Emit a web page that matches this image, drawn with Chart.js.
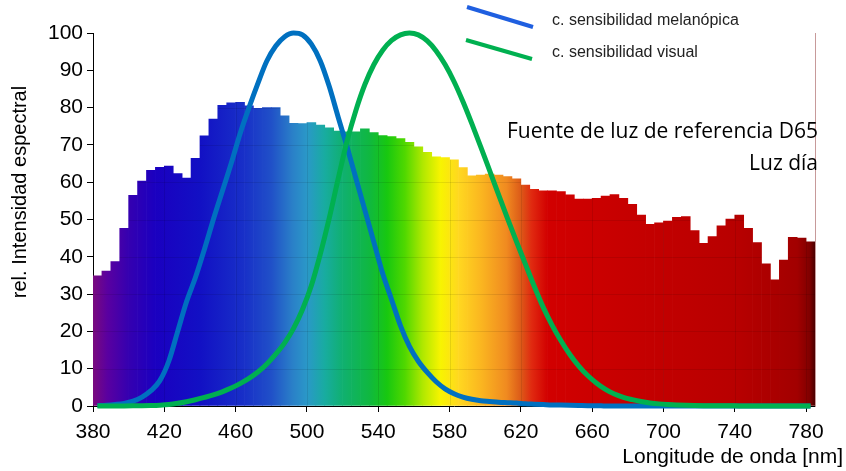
<!DOCTYPE html>
<html>
<head>
<meta charset="utf-8">
<script src="https://cdn.jsdelivr.net/npm/chart.js@4"></script>
<style>
  html, body { margin: 0; padding: 0; background: #fff; }
  canvas { display: block; }
</style>
</head>
<body>
<canvas id="chart" width="846" height="471"></canvas>
<script>
// Longitudes de onda (nm), intervalos de 5 nm
const wavelengths = [
  380, 385, 390, 395, 400, 405, 410, 415, 420, 425, 430, 435, 440, 445, 450, 455, 460, 465, 470, 475,
  480, 485, 490, 495, 500, 505, 510, 515, 520, 525, 530, 535, 540, 545, 550, 555, 560, 565, 570, 575,
  580, 585, 590, 595, 600, 605, 610, 615, 620, 625, 630, 635, 640, 645, 650, 655, 660, 665, 670, 675,
  680, 685, 690, 695, 700, 705, 710, 715, 720, 725, 730, 735, 740, 745, 750, 755, 760, 765, 770, 775,
  780
];

// Fuente de luz D65, intensidad relativa
const d65 = [
  34.9, 36.2, 38.7, 47.6, 56.5, 60.3, 63.2, 64.0, 64.3, 62.3, 61.1, 66.4, 72.4, 76.9, 80.6, 81.3, 81.4, 80.5, 79.8, 80.0,
  80.0, 77.8, 75.8, 75.7, 76.0, 75.3, 74.6, 73.7, 73.5, 73.5, 74.3, 73.3, 72.5, 72.2, 71.7, 70.7, 69.5, 68.0, 66.8, 66.6,
  66.0, 63.9, 61.7, 61.9, 62.2, 61.9, 61.5, 60.9, 59.2, 58.1, 57.7, 57.7, 57.5, 56.6, 55.5, 55.5, 55.7, 56.3, 56.7, 55.7,
  54.1, 51.2, 48.7, 49.1, 49.6, 50.6, 50.8, 47.0, 43.6, 45.4, 48.3, 50.1, 51.2, 47.6, 43.8, 38.1, 33.8, 39.1, 45.2, 45.0,
  44.0
];

// Curva de sensibilidad melanópica (%)
const melanopica = [
  0.1, 0.2, 0.4, 0.7, 1.3, 2.4, 4.1, 6.8, 12, 20, 28, 34.5, 42, 50, 57.5, 65, 73, 80, 86.5, 92.5,
  96.5, 99, 100, 99.5, 97, 92.5, 85.7, 77.5, 69.5, 61, 52.5, 44, 35.5, 28.5, 21.5, 16, 12, 9, 6.5, 4.6,
  3.3, 2.4, 1.8, 1.4, 1.2, 1.0, 0.9, 0.8, 0.6, 0.5, 0.4, 0.3, 0.25, 0.2, 0.15, 0.1, 0.1, 0, 0, 0,
  0, 0, 0, 0, 0, 0, 0, 0, 0, 0, 0, 0, 0, 0, 0, 0, 0, 0, 0, 0,
  0
];

// Curva de sensibilidad visual V(λ) (%)
const visual = [
  0.004, 0.006, 0.012, 0.022, 0.04, 0.064, 0.12, 0.22, 0.4, 0.73, 1.16, 1.68, 2.3, 2.98, 3.8, 4.8, 6.0, 7.39, 9.1, 11.26,
  13.9, 16.93, 20.8, 25.86, 32.3, 40.73, 50.3, 60.82, 71.0, 79.32, 86.2, 91.49, 95.4, 98.03, 99.5, 100, 99.5, 97.86, 95.2, 91.54,
  87.0, 81.63, 75.7, 69.49, 63.1, 56.67, 50.3, 44.12, 38.1, 32.1, 26.5, 21.7, 17.5, 13.82, 10.7, 8.16, 6.1, 4.46, 3.2, 2.32,
  1.7, 1.19, 0.82, 0.57, 0.41, 0.29, 0.21, 0.15, 0.1, 0.07, 0.05, 0.04, 0.03, 0.02, 0.01, 0.01, 0.01, 0, 0, 0,
  0
];

const xTicks = [380, 420, 460, 500, 540, 580, 620, 660, 700, 740, 780];
const yTicks = [0, 10, 20, 30, 40, 50, 60, 70, 80, 90, 100];

// Colores del espectro (estilo)
const spectrumStops = [
  [380, '#7a0a7e'], [388, '#5a00a0'], [400, '#3500b0'], [415, '#1a00c0'], [440, '#1210c4'],
  [465, '#1830c8'], [480, '#2050c8'], [492, '#2a80c8'], [500, '#2a98c8'], [510, '#18aca0'],
  [520, '#10b070'], [535, '#10b840'], [545, '#18c810'], [555, '#50d800'], [565, '#b0e800'],
  [575, '#f8f400'], [585, '#ffd820'], [597, '#fbb820'], [612, '#f08a20'], [620, '#dc5a18'],
  [626, '#e02a10'], [635, '#d20000'], [680, '#c60000'], [740, '#b80000'], [775, '#a20000'],
  [782, '#800000'], [785, '#4a0000']
];

const binOffset = 2.5; // centro de cada intervalo de 5 nm
const toPoints = vals => wavelengths.map((w, i) => ({ x: w + binOffset, y: vals[i] }));

function spectrumGradient(context) {
  const chart = context.chart;
  const area = chart.chartArea;
  if (!area) return '#888';
  const xs = chart.scales.x;
  const x0 = xs.getPixelForValue(380), x1 = xs.getPixelForValue(785);
  const g = chart.ctx.createLinearGradient(x0, 0, x1, 0);
  spectrumStops.forEach(([w, c]) => g.addColorStop((w - 380) / 405, c));
  return g;
}

// Rejilla tenue visible solo dentro de las barras
const gridInBars = {
  id: 'gridInBars',
  afterDatasetDraw(chart, args) {
    if (args.index !== 0) return;
    const ctx = chart.ctx;
    const bars = args.meta.data;
    ctx.save();
    ctx.beginPath();
    bars.forEach(b => {
      const p = b.getProps(['x', 'y', 'width', 'base'], true);
      ctx.rect(p.x - p.width / 2, p.y, p.width, p.base - p.y);
    });
    ctx.clip();
    ctx.strokeStyle = 'rgba(0,0,0,0.09)';
    ctx.lineWidth = 1;
    const { left, right, top, bottom } = chart.chartArea;
    yTicks.slice(1).forEach(v => {
      const y = Math.round(chart.scales.y.getPixelForValue(v)) + 0.5;
      ctx.beginPath(); ctx.moveTo(left, y); ctx.lineTo(right, y); ctx.stroke();
    });
    xTicks.slice(1).forEach(v => {
      const x = Math.round(chart.scales.x.getPixelForValue(v)) + 0.5;
      ctx.beginPath(); ctx.moveTo(x, top); ctx.lineTo(x, bottom); ctx.stroke();
    });
    ctx.restore();
  }
};

// Textos, títulos de ejes y leyenda
const labelsPlugin = {
  id: 'labelsPlugin',
  afterDraw(chart) {
    const ctx = chart.ctx;
    ctx.save();
    ctx.fillStyle = '#000';

    ctx.font = '21px "Liberation Sans", Arial, sans-serif';
    ctx.textBaseline = 'middle';
    ctx.textAlign = 'right';
    ctx.fillText('Longitude de onda [nm]', 843, 457);

    ctx.font = '20px "Liberation Sans", Arial, sans-serif';
    ctx.save();
    ctx.translate(20, 192);
    ctx.rotate(-Math.PI / 2);
    ctx.textAlign = 'center';
    ctx.fillText('rel. Intensidad espectral', 0, 0);
    ctx.restore();

    ctx.font = '21px "Open Sans", sans-serif';
    ctx.textAlign = 'right';
    ctx.fillText('Fuente de luz de referencia D65', 818, 132);
    ctx.fillText('Luz día', 818, 164);

    // leyenda
    ctx.lineWidth = 4;
    ctx.lineCap = 'butt';
    ctx.strokeStyle = '#1f5fe0';
    ctx.beginPath(); ctx.moveTo(467, 7); ctx.lineTo(533, 27); ctx.stroke();
    ctx.strokeStyle = '#00b050';
    ctx.beginPath(); ctx.moveTo(466, 40); ctx.lineTo(532, 59); ctx.stroke();

    ctx.font = '16px "Liberation Sans", Arial, sans-serif';
    ctx.textAlign = 'left';
    ctx.fillStyle = '#222';
    ctx.fillText('c. sensibilidad melanópica', 552, 21);
    ctx.fillText('c. sensibilidad visual', 552, 53);
    ctx.restore();
  }
};

const tickFont = { family: '"Liberation Sans", Arial, sans-serif', size: 21 };

new Chart(document.getElementById('chart'), {
  data: {
    datasets: [
      {
        type: 'bar',
        label: 'D65',
        data: toPoints(d65),
        backgroundColor: spectrumGradient,
        borderWidth: 0,
        barPercentage: 1,
        categoryPercentage: 1,
        order: 3
      },
      {
        type: 'line',
        label: 'c. sensibilidad melanópica',
        data: toPoints(melanopica),
        borderColor: '#0070c0',
        borderWidth: 5,
        pointRadius: 0,
        cubicInterpolationMode: 'monotone',
        clip: false,
        order: 2
      },
      {
        type: 'line',
        label: 'c. sensibilidad visual',
        data: toPoints(visual),
        borderColor: '#00b050',
        borderWidth: 5,
        pointRadius: 0,
        cubicInterpolationMode: 'monotone',
        clip: false,
        order: 1
      }
    ]
  },
  options: {
    responsive: false,
    animation: false,
    layout: { padding: { left: 0, right: 31, top: 33, bottom: 0 } },
    plugins: {
      legend: { display: false },
      tooltip: { enabled: false }
    },
    scales: {
      x: {
        type: 'linear',
        min: 380,
        max: 785,
        offset: false,
        afterBuildTicks: axis => { axis.ticks = xTicks.map(v => ({ value: v })); },
        afterFit: axis => { axis.height = 65; },
        grid: { display: true, offset: false, drawOnChartArea: false, drawTicks: true, tickLength: 6, color: '#000' },
        border: { display: true, color: '#000', width: 1 },
        ticks: { color: '#000', font: tickFont, padding: 8, maxRotation: 0, autoSkip: false }
      },
      y: {
        min: 0,
        max: 100,
        afterBuildTicks: axis => { axis.ticks = yTicks.map(v => ({ value: v })); },
        afterFit: axis => { axis.width = 93; },
        grid: { display: true, drawOnChartArea: false, drawTicks: true, tickLength: 6, color: '#000' },
        border: { display: true, color: '#000', width: 1 },
        ticks: { color: '#000', font: tickFont, padding: 4 }
      },
      y2: {
        position: 'right',
        min: 0,
        max: 100,
        afterFit: axis => { axis.width = 0; },
        grid: { display: false },
        ticks: { display: false },
        border: { display: true, color: '#c79a9a', width: 1 }
      }
    }
  },
  plugins: [gridInBars, labelsPlugin]
});
</script>
</body>
</html>
